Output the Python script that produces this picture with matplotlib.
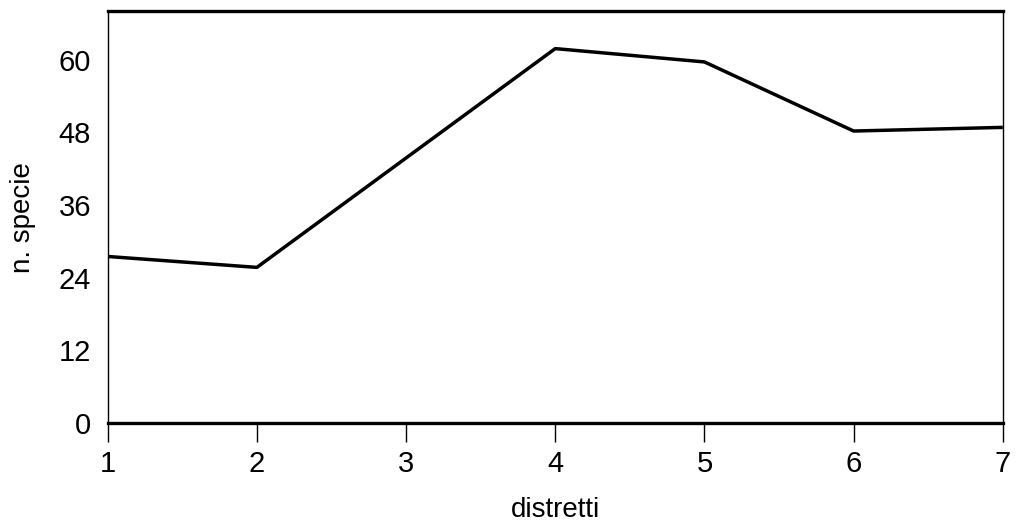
import matplotlib.pyplot as plt

# data
distretti = [1, 2, 4, 5, 6, 7]
n_specie = [27.5, 25.7, 61.8, 59.6, 48.2, 48.8]
y_ticks = [0, 12, 24, 36, 48, 60]
x_ticks = [1, 2, 3, 4, 5, 6, 7]

plt.rcParams['font.family'] = ['Liberation Sans', 'DejaVu Sans']

fig = plt.figure(figsize=(10.16, 5.25), dpi=100)
ax = fig.add_axes([0.106, 0.194, 0.881, 0.785])

ax.plot(distretti, n_specie, color='black', lw=2.5, solid_capstyle='butt')

ax.set_xlim(1, 7)
ax.set_ylim(0, 68)
ax.set_xticks(x_ticks)
ax.set_yticks(y_ticks)

ax.spines['top'].set_linewidth(2.4)
ax.spines['bottom'].set_linewidth(2.4)
ax.spines['left'].set_linewidth(1.0)
ax.spines['right'].set_linewidth(1.0)

ax.tick_params(axis='x', direction='out', length=14, width=1.0, pad=5, labelsize=21)
ax.tick_params(axis='y', direction='out', length=0, pad=12, labelsize=21)

ax.set_xlabel('distretti', fontsize=20, labelpad=14)
ax.set_ylabel('n. specie', fontsize=20, labelpad=16)

fig.savefig('out.png', dpi=100)
